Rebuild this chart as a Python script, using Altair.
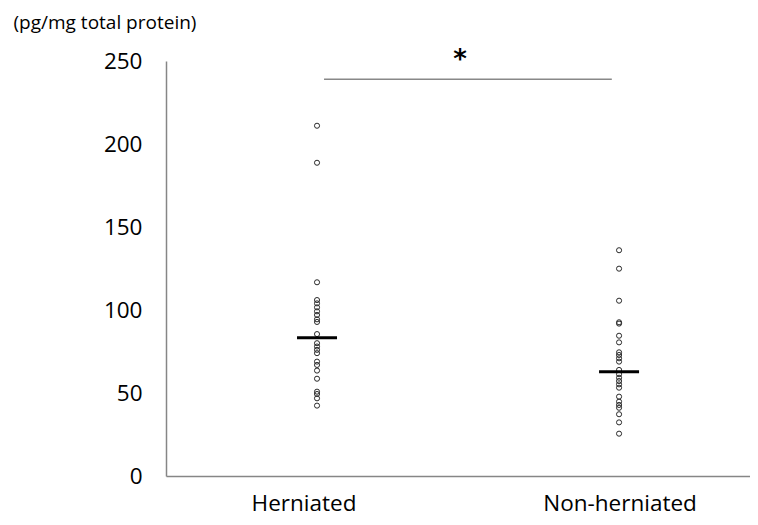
import altair as alt
import pandas as pd

# ---- data ----
groups = ["Herniated", "Non-herniated"]
group_pos = [0.25, 0.75]          # category centres on the x axis
herniated = [211, 188.7, 116.7, 106, 104, 101.6, 99.2, 97, 94.4, 92.8, 85.5,
             80, 78, 76, 74, 68.9, 66.9, 63.5, 58.6, 50.8, 49.4, 46.8, 42.4]
non_herniated = [136, 124.9, 105.6, 92.6, 91.8, 84.5, 80.5, 74.5, 72.9, 70.9,
                 68.9, 63.9, 61.3, 59.2, 57.2, 55.2, 53.2, 47.8, 44.8, 42.8,
                 41.1, 37.2, 32.3, 25.5]
means = [83.3, 62.8]
sig_x = [0.2616, 0.738]
sig_y = 239
star_x = 0.4867
star_y = 245.5
y_ticks = [0, 50, 100, 150, 200, 250]

pts = pd.DataFrame(
    {"x": [group_pos[0]] * len(herniated) + [group_pos[1]] * len(non_herniated),
     "y": herniated + non_herniated})
mean_df = pd.DataFrame({"x": group_pos, "y": means, "group": groups})
sig_df = pd.DataFrame({"x": [sig_x[0]], "x2": [sig_x[1]], "y": [sig_y]})
star_df = pd.DataFrame({"x": [star_x], "y": [star_y], "t": ["*"]})
lab_df = pd.DataFrame({"x": group_pos, "t": groups})

FONT = "Open Sans"
PLOT_W = 584
xscale = alt.Scale(domain=[0, PLOT_W * 0.98 / 592], nice=False, zero=False)
yscale = alt.Scale(domain=[0, 250], nice=False)

x_enc = alt.X("x:Q", scale=xscale,
              axis=alt.Axis(labels=False, ticks=False, grid=False, title=None,
                            domainColor="#868686", domainWidth=1.5))
y_enc = alt.Y("y:Q", scale=yscale,
              axis=alt.Axis(values=y_ticks, ticks=False, grid=False,
                            labelFont=FONT, labelFontSize=22.5, labelColor="#000000",
                            labelPadding=24, domainColor="#868686", domainWidth=1.5,
                            title="(pg/mg total protein)", titleAngle=0,
                            titleAlign="left", titleBaseline="middle",
                            titleX=-153, titleY=-39, titleFont=FONT,
                            titleFontSize=19, titleFontWeight="normal",
                            titleColor="#000000"))

x_plain = alt.X("x:Q", scale=xscale)
y_plain = alt.Y("y:Q", scale=yscale)

points = alt.Chart(pts).mark_point(shape="circle", filled=False, size=26,
                                   stroke="#2a2a2a", strokeWidth=1,
                                   opacity=1).encode(x=x_enc, y=y_enc)

mean_ticks = alt.Chart(mean_df).mark_tick(orient="horizontal", size=40,
                                          thickness=3, color="#000000",
                                          opacity=1).encode(x=x_plain, y=y_plain)

sig_line = alt.Chart(sig_df).mark_rule(color="#888888", strokeWidth=1.5).encode(
    x=x_plain, x2="x2:Q", y=y_plain)

star = alt.Chart(star_df).mark_text(font="DejaVu Sans", fontSize=26,
                                    fontWeight="bold", baseline="alphabetic",
                                    color="#000000").encode(
    x=x_plain, y=y_plain, text="t:N")

lab_h = alt.Chart(lab_df).transform_filter(alt.datum.t == groups[0]).mark_text(
    font=FONT, fontSize=22.5, baseline="alphabetic", dx=-13, color="#000000").encode(
    x=x_plain, y=alt.value(450), text="t:N")
lab_n = alt.Chart(lab_df).transform_filter(alt.datum.t == groups[1]).mark_text(
    font=FONT, fontSize=22.5, baseline="alphabetic", dx=1, color="#000000").encode(
    x=x_plain, y=alt.value(450), text="t:N")

chart = alt.layer(points, mean_ticks, sig_line, star, lab_h, lab_n).properties(
    width=PLOT_W, height=415,
    autosize=alt.AutoSizeParams(type="none"),
    padding={"left": 158, "top": 53, "right": 0, "bottom": 41},
).configure_view(stroke=None).configure_axis(grid=False)

chart.save("out.html", embed_options={"renderer": "svg", "actions": False})
